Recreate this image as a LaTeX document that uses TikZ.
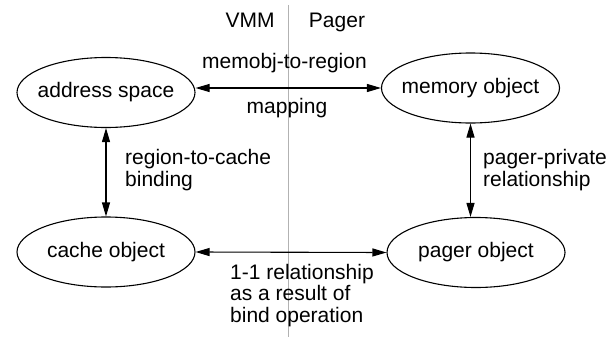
\documentclass[tikz,border=0pt]{standalone}
\usepackage{fontspec}
\setmainfont{Liberation Sans}
\usetikzlibrary{shapes.geometric,arrows.meta}
\tikzset{
  obj/.style={draw, ellipse, line width=1.1pt, inner sep=0pt, minimum width=178pt, minimum height=70pt, font=\fontsize{21}{21}\selectfont},
  lbl/.style={inner sep=0pt, align=left, anchor=base west, font=\fontsize{21}{21.5}\selectfont},
  hdr/.style={inner sep=0pt, anchor=base, font=\fontsize{21}{21}\selectfont},
  arr/.style={line width=1.1pt, {Triangle[length=14pt,width=8pt]}-{Triangle[length=14pt,width=8pt]}},
  divider/.style={draw=black!30, line width=1pt}
}
\begin{document}
\begin{tikzpicture}[x=1pt,y=-1pt]
\useasboundingbox (0,0) rectangle (612,337);
\coordinate (dtop) at (288,5);
\coordinate (dbot) at (288,337);
\draw[divider] (dtop) -- (dbot);
\node[hdr] (vmm) at (250,28) {VMM};
\node[hdr] (pgr) at (337,28) {Pager};
\node[obj] (as) at (106,92.5) {\makebox[0pt]{address space}};
\node[obj] (mo) at (470.5,88) {\makebox[0pt]{memory object}};
\node[obj] (co) at (106,252) {\makebox[0pt]{cache object}};
\node[obj] (po) at (476,252.5) {\makebox[0pt]{pager object}};
\draw[arr] (mo.west -| as.east) -- (mo.west);
\draw[arr] (co.east) -- (po.west);
\draw[arr] (as) -- (co);
\draw[arr] (mo.south) -- (mo.south |- po.north);
\node[hdr] (l1) at (284.5,68) {memobj-to-region};
\node[hdr] (l2) at (287,113) {mapping};
\node[lbl] (l3) at (125,186) {region-to-cache\\binding};
\node[lbl] (l4) at (483,186) {pager-private\\relationship};
\node[lbl] (l5) at (230,322) {1-1 relationship\\as a result of\\bind operation};
\end{tikzpicture}
\end{document}
